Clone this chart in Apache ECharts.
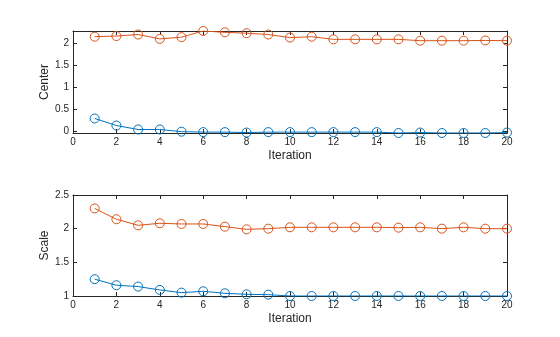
<!DOCTYPE html>
<html><head><meta charset="utf-8">
<script src="https://cdn.jsdelivr.net/npm/echarts@6/dist/echarts.min.js"></script>
<style>html,body{margin:0;padding:0;background:#fff}#c{width:560px;height:337px}</style>
</head><body><div id="c"></div>
<script>
const iterations = [1,2,3,4,5,6,7,8,9,10,11,12,13,14,15,16,17,18,19,20];
const centerBlue = [0.29,0.13,0.04,0.04,-0.01,-0.02,-0.02,-0.03,-0.02,-0.02,-0.02,-0.02,-0.02,-0.02,-0.04,-0.03,-0.04,-0.04,-0.04,-0.03];
const centerOrange = [2.15,2.165,2.20,2.10,2.14,2.28,2.25,2.23,2.20,2.13,2.15,2.09,2.09,2.09,2.09,2.06,2.06,2.06,2.065,2.06];
const scaleBlue = [1.25,1.16,1.14,1.09,1.05,1.07,1.04,1.025,1.02,1.00,1.00,1.00,1.00,1.00,1.00,1.00,1.00,1.00,1.00,1.00];
const scaleOrange = [2.30,2.14,2.05,2.08,2.07,2.07,2.03,1.99,2.00,2.02,2.02,2.02,2.02,2.02,2.015,2.02,2.00,2.02,2.00,2.00];
const xTicks = [0,2,4,6,8,10,12,14,16,18,20];
const centerTicks = [0,0.5,1,1.5,2];
const scaleTicks = [1,1.5,2,2.5];

const axCol = '#262626';
const font = 'Liberation Sans, Arial, sans-serif';
const blue = '#0072BD', orange = '#D95319';

function xAx(gi, show, name){
  return {type:'value', gridIndex:gi, position: show?'bottom':'top', min:0, max:20, interval:2,
    name: name||'', nameLocation:'middle', nameGap:17, nameMoveOverlap:false,
    nameTextStyle:{color:axCol, fontSize:12, fontFamily:font},
    axisLine:{show:true, onZero:false, lineStyle:{color:axCol, width:1}},
    axisTick:{show:true, inside:true, length:4, customValues:xTicks, lineStyle:{color:axCol}},
    axisLabel:{show:show, color:axCol, fontSize:10, fontFamily:font, margin:4, customValues:xTicks},
    splitLine:{show:false}};
}
function yAx(gi, show, min, max, ticks, name){
  return {type:'value', gridIndex:gi, position: show?'left':'right', min:min, max:max,
    name: name||'', nameLocation:'middle', nameGap:22, nameRotate:90, nameMoveOverlap:false,
    nameTextStyle:{color:axCol, fontSize:12, fontFamily:font},
    axisLine:{show:true, onZero:false, lineStyle:{color:axCol, width:1}},
    axisTick:{show:true, inside:true, length:4, customValues:ticks, lineStyle:{color:axCol}},
    axisLabel:{show:show, color:axCol, fontSize:10, fontFamily:font, margin:4, customValues:ticks},
    splitLine:{show:false}};
}
function ser(xi, yi, ys, color){
  return {type:'line', xAxisIndex:xi, yAxisIndex:yi, data: iterations.map((x,i)=>[x, ys[i]]),
    symbol:'circle', symbolSize:9, showSymbol:true,
    itemStyle:{color:'rgba(0,0,0,0)', borderColor:color, borderWidth:1},
    lineStyle:{color:color, width:1}, animation:false, z:3};
}

const chart = echarts.init(document.getElementById('c'), null, {renderer:'canvas'});
chart.setOption({
  backgroundColor:'#fff',
  animation:false,
  grid:[
    {left:73, right:53, top:31, height:102, containLabel:false},
    {left:73, right:53, top:195, height:101, containLabel:false}
  ],
  xAxis:[xAx(0,true,'Iteration'), xAx(0,false), xAx(1,true,'Iteration'), xAx(1,false)],
  yAxis:[yAx(0,true,-0.04,2.28,centerTicks,'Center'), yAx(0,false,-0.04,2.28,centerTicks),
         yAx(1,true,1,2.5,scaleTicks,'Scale'), yAx(1,false,1,2.5,scaleTicks)],
  series:[
    ser(0,0,centerBlue,blue), ser(0,0,centerOrange,orange),
    ser(2,2,scaleBlue,blue), ser(2,2,scaleOrange,orange)
  ]
});
</script></body></html>
